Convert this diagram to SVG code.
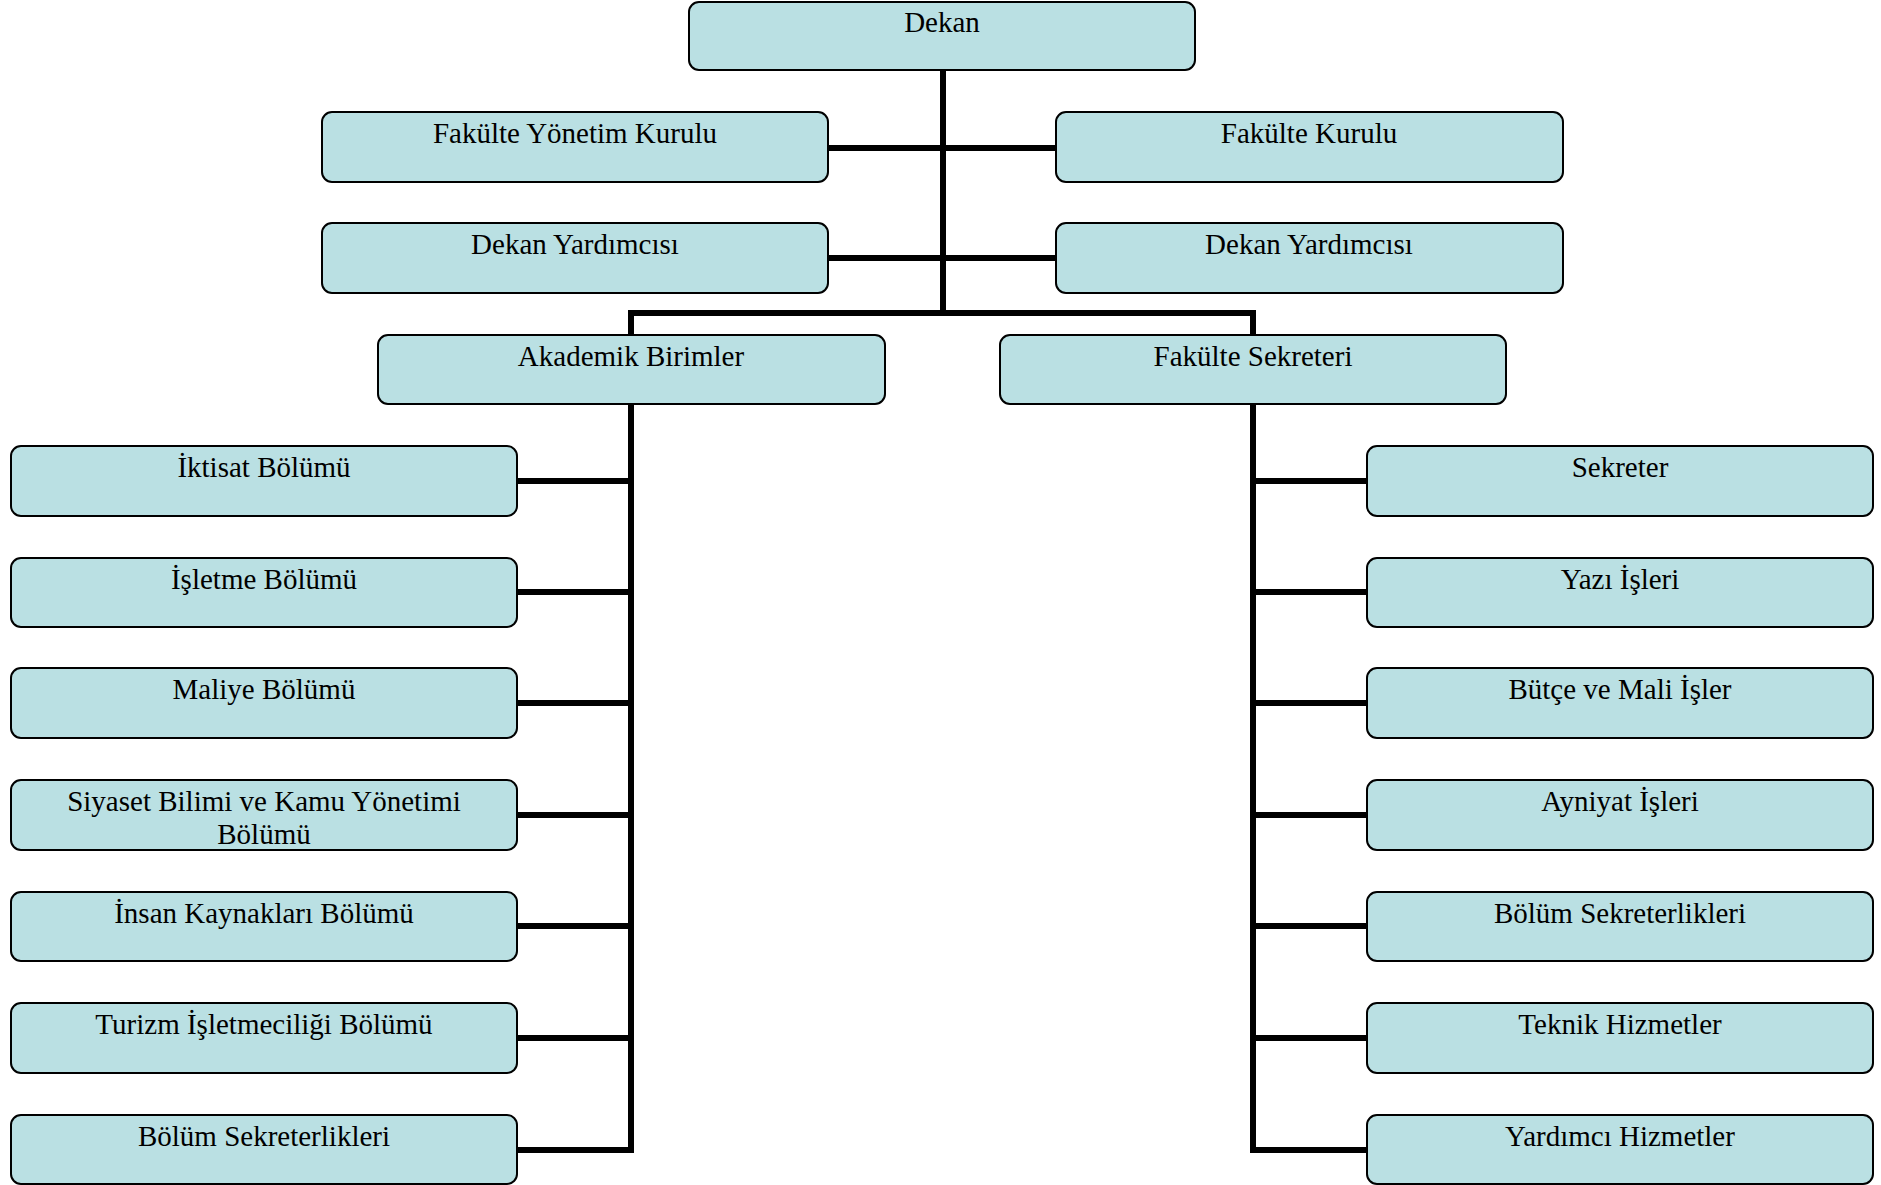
<svg xmlns="http://www.w3.org/2000/svg" width="1881" height="1185" viewBox="0 0 1881 1185">
<style>
.box{fill:#BAE0E3;stroke:#000;stroke-width:2}
.lbl{font-family:"Liberation Serif","Times New Roman",serif;font-size:29px;fill:#000;text-anchor:middle}
.con{stroke:#000;stroke-width:6;fill:none}
</style>
<rect width="1881" height="1185" fill="#fff"/>
<g id="connectors">
<path class="con" d="M943,70 V313"/>
<path class="con" d="M828,148 H1056"/>
<path class="con" d="M828,258 H1056"/>
<path class="con" d="M631,335 V313 H1253 V335"/>
<path class="con" d="M631,404 V1150 H517"/>
<path class="con" d="M517,481 H631 M517,592 H631 M517,703 H631 M517,815 H631 M517,926 H631 M517,1038 H631"/>
<path class="con" d="M1253,404 V1150 H1367"/>
<path class="con" d="M1367,481 H1253 M1367,592 H1253 M1367,703 H1253 M1367,815 H1253 M1367,926 H1253 M1367,1038 H1253"/>
</g>
<g id="n-dekan"><rect class="box" x="689" y="2" width="506" height="68" rx="10"/><text class="lbl" x="942" y="32">Dekan</text></g>
<g id="n-fyk"><rect class="box" x="322" y="112" width="506" height="70" rx="10"/><text class="lbl" x="575" y="143">Fakülte Yönetim Kurulu</text></g>
<g id="n-fk"><rect class="box" x="1056" y="112" width="507" height="70" rx="10"/><text class="lbl" x="1309" y="143">Fakülte Kurulu</text></g>
<g id="n-dy1"><rect class="box" x="322" y="223" width="506" height="70" rx="10"/><text class="lbl" x="575" y="254">Dekan Yardımcısı</text></g>
<g id="n-dy2"><rect class="box" x="1056" y="223" width="507" height="70" rx="10"/><text class="lbl" x="1309" y="254">Dekan Yardımcısı</text></g>
<g id="n-ab"><rect class="box" x="378" y="335" width="507" height="69" rx="10"/><text class="lbl" x="631" y="366">Akademik Birimler</text></g>
<g id="n-fs"><rect class="box" x="1000" y="335" width="506" height="69" rx="10"/><text class="lbl" x="1253" y="366">Fakülte Sekreteri</text></g>
<g id="n-l1"><rect class="box" x="11" y="446" width="506" height="70" rx="10"/><text class="lbl" x="264" y="477">İktisat Bölümü</text></g>
<g id="n-l2"><rect class="box" x="11" y="558" width="506" height="69" rx="10"/><text class="lbl" x="264" y="589">İşletme Bölümü</text></g>
<g id="n-l3"><rect class="box" x="11" y="668" width="506" height="70" rx="10"/><text class="lbl" x="264" y="699">Maliye Bölümü</text></g>
<g id="n-l4"><rect class="box" x="11" y="780" width="506" height="70" rx="10"/><text class="lbl" x="264" y="811">Siyaset Bilimi ve Kamu Yönetimi</text><text class="lbl" x="264" y="844">Bölümü</text></g>
<g id="n-l5"><rect class="box" x="11" y="892" width="506" height="69" rx="10"/><text class="lbl" x="264" y="923">İnsan Kaynakları Bölümü</text></g>
<g id="n-l6"><rect class="box" x="11" y="1003" width="506" height="70" rx="10"/><text class="lbl" x="264" y="1034">Turizm İşletmeciliği Bölümü</text></g>
<g id="n-l7"><rect class="box" x="11" y="1115" width="506" height="69" rx="10"/><text class="lbl" x="264" y="1146">Bölüm Sekreterlikleri</text></g>
<g id="n-r1"><rect class="box" x="1367" y="446" width="506" height="70" rx="10"/><text class="lbl" x="1620" y="477">Sekreter</text></g>
<g id="n-r2"><rect class="box" x="1367" y="558" width="506" height="69" rx="10"/><text class="lbl" x="1620" y="589">Yazı İşleri</text></g>
<g id="n-r3"><rect class="box" x="1367" y="668" width="506" height="70" rx="10"/><text class="lbl" x="1620" y="699">Bütçe ve Mali İşler</text></g>
<g id="n-r4"><rect class="box" x="1367" y="780" width="506" height="70" rx="10"/><text class="lbl" x="1620" y="811">Ayniyat İşleri</text></g>
<g id="n-r5"><rect class="box" x="1367" y="892" width="506" height="69" rx="10"/><text class="lbl" x="1620" y="923">Bölüm Sekreterlikleri</text></g>
<g id="n-r6"><rect class="box" x="1367" y="1003" width="506" height="70" rx="10"/><text class="lbl" x="1620" y="1034">Teknik Hizmetler</text></g>
<g id="n-r7"><rect class="box" x="1367" y="1115" width="506" height="69" rx="10"/><text class="lbl" x="1620" y="1146">Yardımcı Hizmetler</text></g>
</svg>
